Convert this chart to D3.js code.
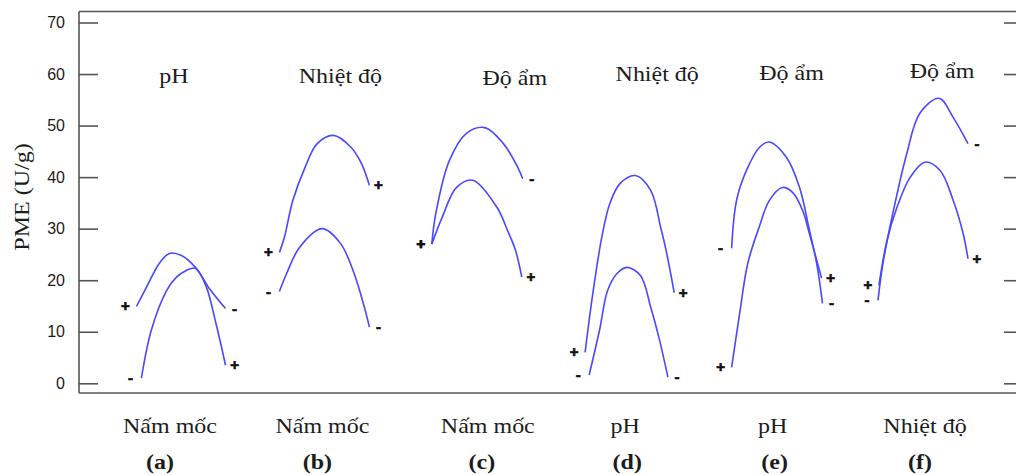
<!DOCTYPE html>
<html>
<head>
<meta charset="utf-8">
<script src="https://cdn.jsdelivr.net/npm/d3@7"></script>
<style>
  body { margin: 0; background: #fff; }
  svg { display: block; }
</style>
</head>
<body>
<svg id="chart" width="1016" height="475"></svg>
<script>
// panels and their factor names
const panelIds = ["(a)", "(b)", "(c)", "(d)", "(e)", "(f)"];
const topFactors = ["pH", "Nhiệt độ", "Độ ẩm", "Nhiệt độ", "Độ ẩm", "Độ ẩm"];
const bottomFactors = ["Nấm mốc", "Nấm mốc", "Nấm mốc", "pH", "pH", "Nhiệt độ"];
const yTicks = [0, 10, 20, 30, 40, 50, 60, 70];

// curves: x = coded level (-1..1) of bottom factor, y = PME (U/g)
const curves = [
  {panel: 0, signs: ["+", "-"],
   x: [-0.99, -0.77, -0.48, -0.26, 0.01, 0.34, 0.63, 0.99],
   y: [14.9, 18.6, 23.3, 25.2, 24.8, 22.3, 18.4, 14.5]},
  {panel: 0, signs: ["-", "+"],
   x: [-0.88, -0.66, -0.32, -0.10, 0.12, 0.32, 0.55, 0.78, 0.99],
   y: [1.0, 10.3, 18.0, 20.6, 21.9, 22.3, 19.0, 11.5, 3.5]},
  {panel: 1, signs: ["+", "+"],
   x: [-1, -0.89, -0.70, -0.43, -0.16, 0.2, 0.59, 0.82, 1],
   y: [25.4, 28.3, 35.5, 41.9, 46.5, 48.1, 45.8, 42.7, 38.4]},
  {panel: 1, signs: ["-", "-"],
   x: [-1, -0.84, -0.55, -0.05, 0.36, 0.66, 0.89, 1],
   y: [17.8, 21.3, 26.4, 30.0, 27.1, 21.3, 14.7, 10.9]},
  {panel: 2, signs: ["+", "-"],
   x: [-1, -0.91, -0.61, -0.23, 0.18, 0.59, 0.91, 1.02],
   y: [27.0, 33.0, 43.2, 48.5, 49.6, 46.5, 41.9, 39.7]},
  {panel: 2, signs: ["+", "+"],
   x: [-1, -0.77, -0.45, -0.09, 0.45, 0.68, 0.86, 1],
   y: [27.0, 32.2, 38.0, 39.4, 34.1, 29.7, 25.8, 20.6]},
  {panel: 3, signs: ["+", "+"],
   x: [-0.98, -0.82, -0.61, -0.43, -0.2, 0.14, 0.48, 0.7, 0.82, 1],
   y: [6.0, 16.7, 28.3, 34.9, 38.8, 40.3, 37.4, 30.2, 25.8, 17.6]},
  {panel: 3, signs: ["-", "-"],
   x: [-0.89, -0.66, -0.48, -0.27, -0.05, 0.25, 0.48, 0.66, 0.86],
   y: [1.6, 10.3, 18.0, 21.3, 22.5, 20.9, 14.7, 8.9, 1.2]},
  {panel: 4, signs: ["-", "-"],
   x: [-1, -0.89, -0.67, -0.38, -0.16, 0.22, 0.51, 0.73, 0.89, 1.02],
   y: [26.2, 35.5, 41.3, 45.8, 46.8, 43.8, 38.0, 29.7, 23.3, 15.5]},
  {panel: 4, signs: ["+", "+"],
   x: [-1, -0.82, -0.64, -0.38, -0.16, 0.13, 0.36, 0.58, 0.73, 0.84, 1],
   y: [3.1, 13.6, 23.3, 30.5, 35.5, 38.0, 37.0, 33.5, 29.0, 25.5, 20.4]},
  {panel: 5, signs: ["-", "-"],
   x: [-1, -0.89, -0.67, -0.36, -0.07, 0.36, 0.67, 1],
   y: [16.1, 23.3, 33.0, 44.6, 52.4, 55.3, 51.6, 46.5]},
  {panel: 5, signs: ["+", "+"],
   x: [-0.98, -0.8, -0.58, -0.29, 0.04, 0.38, 0.67, 0.89, 1],
   y: [19.0, 27.7, 34.1, 39.9, 42.9, 41.3, 35.5, 29.1, 24.2]}
];

// layout nudges (px) per panel
const curveNudge = [0, -5, -1, 3, 2, 0];
const titleDx = [-7, 11, 37, 31, 17, 19];
const titleY = [83, 83, 85, 81, 80, 78];
const bottomDx = [-11, -7, 10, -1, -2, 2];
const idDx = [-21, -12, 4, 1, 0, -3];

const svg = d3.select("#chart");
const boxL = 79, boxR = 1023, boxT = 11.5, boxB = 393;
const serif = "'Liberation Serif', 'Times New Roman', serif";
const ink = "#1c1c1c";

const y = d3.scaleLinear().domain([0, 70]).range([383.3, 22.5]);
const px = d3.scalePoint().domain(d3.range(panelIds.length)).range([181, 923]);
const cx = d3.scaleLinear().domain([-1, 1]).range([-45, 45]);

// frame
const frame = svg.append("g").attr("stroke", "#555").attr("stroke-width", 1.6);
frame.append("line").attr("x1", boxL).attr("x2", boxR).attr("y1", boxT).attr("y2", boxT);
frame.append("line").attr("x1", boxL).attr("x2", boxR).attr("y1", boxB).attr("y2", boxB);
frame.append("line").attr("x1", boxL).attr("x2", boxL).attr("y1", boxT).attr("y2", boxB);

const yAxis = svg.append("g")
  .attr("transform", `translate(${boxL},0)`)
  .call(d3.axisLeft(y).tickValues(yTicks).tickSizeInner(-19).tickSizeOuter(0).tickPadding(14));
yAxis.select(".domain").remove();
yAxis.selectAll("line").attr("stroke", "#555").attr("stroke-width", 1.6);
yAxis.selectAll("text")
  .attr("font-family", "'Liberation Sans', Arial, sans-serif")
  .attr("font-size", 16)
  .attr("fill", ink);

const yAxisR = svg.append("g")
  .attr("transform", `translate(${boxR},0)`)
  .call(d3.axisRight(y).tickValues(yTicks).tickSizeInner(-19).tickSizeOuter(0).tickFormat(""));
yAxisR.select(".domain").remove();
yAxisR.selectAll("line").attr("stroke", "#555").attr("stroke-width", 1.6);

// y label
svg.append("text")
  .attr("transform", "translate(29,197) rotate(-90) scale(1.2,1)")
  .attr("text-anchor", "middle")
  .attr("font-family", serif)
  .attr("font-size", 20)
  .attr("fill", ink)
  .text("PME (U/g)");

// curves
const line = d3.line()
  .x(d => d[0])
  .y(d => d[1])
  .curve(d3.curveCatmullRom.alpha(0.5));

const cg = svg.append("g").selectAll("g").data(curves).enter().append("g");

cg.append("path")
  .attr("d", c => line(c.x.map((v, i) => [px(c.panel) + curveNudge[c.panel] + cx(v), y(c.y[i])])))
  .attr("fill", "none")
  .attr("stroke", "#4848ff")
  .attr("stroke-width", 1.6);

// +/- marks at curve ends
function addSign(sel, which, dx) {
  sel.append("text")
    .attr("x", c => {
      let k = which == 0 ? 0 : c.x.length - 1;
      return px(c.panel) + curveNudge[c.panel] + cx(c.x[k]) + dx;
    })
    .attr("y", c => y(c.y[which == 0 ? 0 : c.y.length - 1]))
    .attr("dy", "0.33em")
    .attr("text-anchor", "middle")
    .attr("font-family", "'Liberation Sans', Arial, sans-serif")
    .attr("font-weight", "bold")
    .attr("font-size", 15)
    .attr("fill", "#111")
    .attr("stroke", "#111")
    .attr("stroke-width", 0.7)
    .text(c => c.signs[which]);
}
addSign(cg, 0, -11);
addSign(cg, 1, 9);

// panel texts
function stretchText(txt, xf, yf, bold) {
  svg.append("g").selectAll("text")
    .data(txt).enter().append("text")
    .attr("transform", (d, i) => `translate(${xf(i)},${yf(i)}) scale(1.2,1)`)
    .attr("text-anchor", "middle")
    .attr("font-family", serif)
    .attr("font-size", 20)
    .attr("font-weight", bold ? "bold" : "normal")
    .attr("fill", ink)
    .text(d => d);
}
stretchText(topFactors, i => px(i) + titleDx[i], i => titleY[i], false);
stretchText(bottomFactors, i => px(i) + bottomDx[i], i => 433, false);
stretchText(panelIds, i => px(i) + idDx[i], i => 469, true);
</script>
</body>
</html>
